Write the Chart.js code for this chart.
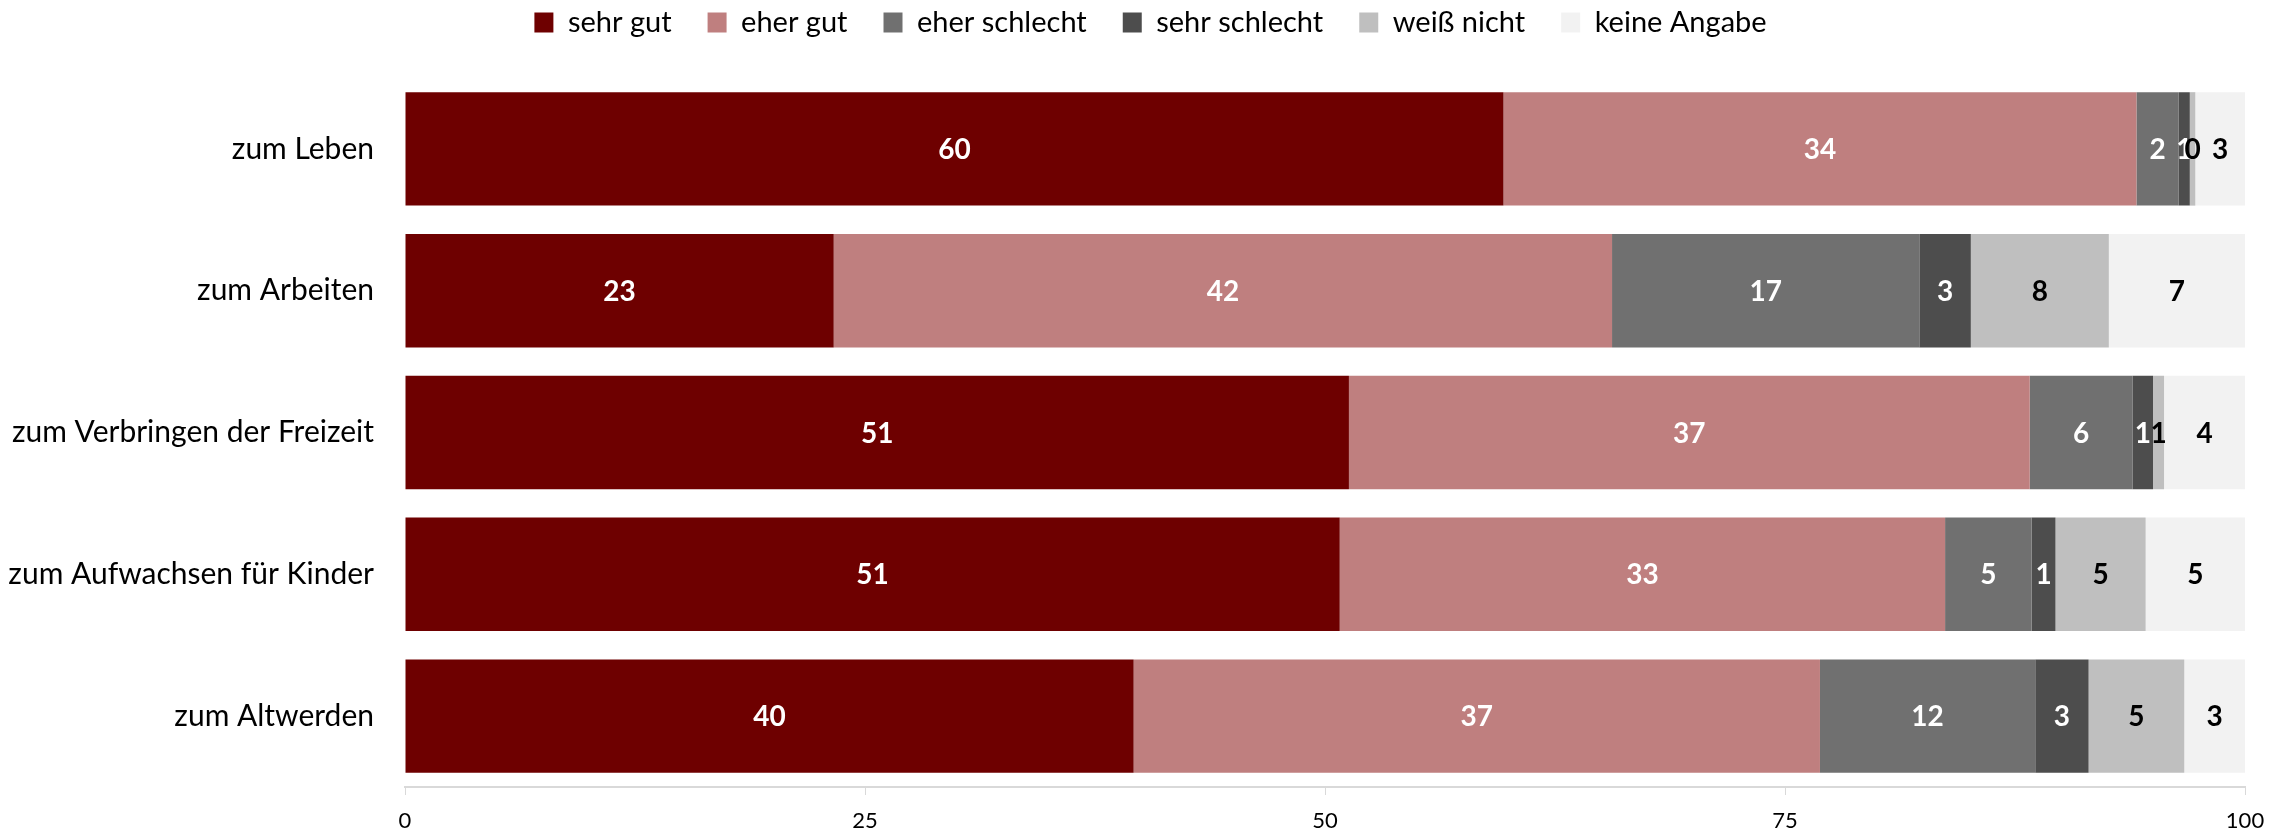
<!DOCTYPE html>
<html>
<head>
<meta charset="utf-8">
<script src="https://cdn.jsdelivr.net/npm/chart.js@4.4.1/dist/chart.umd.min.js"></script>
<style>
html,body{margin:0;padding:0;background:#fff;}
#wrap{width:2289px;height:836px;}
</style>
</head>
<body>
<div id="wrap"><canvas id="c" width="2289" height="836"></canvas></div>
<script>
const categories = ["zum Leben","zum Arbeiten","zum Verbringen der Freizeit","zum Aufwachsen für Kinder","zum Altwerden"];
const seriesNames = ["sehr gut","eher gut","eher schlecht","sehr schlecht","weiß nicht","keine Angabe"];
const sehrGut      = [59.7, 23.3, 51.3, 50.8, 39.6];
const eherGut      = [34.4, 42.3, 37.0, 32.9, 37.3];
const eherSchlecht = [2.3, 16.7, 5.6, 4.7, 11.7];
const sehrSchlecht = [0.6, 2.8, 1.1, 1.3, 2.9];
const weissNicht   = [0.3, 7.5, 0.6, 4.9, 5.2];
const keineAngabe  = [2.7, 7.4, 4.4, 5.4, 3.3];
const xTicks = [0, 25, 50, 75, 100];

const colors = ["#6E0000","#BF7F7F","#707070","#4D4D4D","#BFBFBF","#F2F2F2"];
const labelColors = ["#FFFFFF","#FFFFFF","#FFFFFF","#FFFFFF","#000000","#000000"];
const allSeries = [sehrGut, eherGut, eherSchlecht, sehrSchlecht, weissNicht, keineAngabe];

const FONT = "Lato, 'Open Sans', sans-serif";

const segLabels = {
  id: 'segLabels',
  afterDatasetsDraw(chart) {
    const ctx = chart.ctx;
    ctx.save();
    ctx.font = "bold 28px " + FONT;
    ctx.textAlign = 'center';
    ctx.textBaseline = 'middle';
    chart.data.datasets.forEach((ds, i) => {
      const meta = chart.getDatasetMeta(i);
      meta.data.forEach((el, j) => {
        const v = ds.data[j];
        const cx = (el.x + el.base) / 2;
        ctx.fillStyle = labelColors[i];
        ctx.fillText(String(Math.round(v)), cx, el.y + 1);
      });
    });
    ctx.restore();
  }
};

const legendTweak = {
  id: 'legendTweak',
  afterInit(chart) {
    const lg = chart.legend;
    if (!lg) return;
    const origFit = lg.fit;
    lg.fit = function () { origFit.call(this); this.height = 78; };
    const origDraw = lg.draw;
    lg.draw = function (...args) {
      const ctx = this.ctx;
      ctx.save();
      ctx.translate(28, -28);
      origDraw.apply(this, args);
      ctx.restore();
    };
  }
};

new Chart(document.getElementById('c'), {
  type: 'bar',
  data: {
    labels: categories,
    datasets: seriesNames.map((n, i) => ({
      label: n,
      data: allSeries[i],
      backgroundColor: colors[i],
      borderWidth: 0,
      barPercentage: 0.8,
      categoryPercentage: 1.0
    }))
  },
  options: {
    indexAxis: 'y',
    responsive: false,
    devicePixelRatio: 1,
    animation: false,
    layout: { padding: { top: 0, right: 44, bottom: 0, left: 0 } },
    plugins: {
      legend: {
        position: 'top',
        labels: {
          font: { family: FONT, size: 29 },
          color: '#000',
          boxWidth: 19,
          boxHeight: 20,
          padding: 36
        }
      },
      tooltip: { enabled: false }
    },
    scales: {
      x: {
        stacked: true,
        min: 0, max: 100,
        afterBuildTicks(s) { s.ticks = xTicks.map(v => ({ value: v })); },
        afterFit(s) { s.height = 47; },
        ticks: { font: { family: FONT, size: 22 }, color: '#000', padding: 13 },
        grid: { drawOnChartArea: false, drawTicks: true, tickLength: 8, color: '#D9D9D9' },
        border: { display: true, color: '#D9D9D9', width: 2 }
      },
      y: {
        stacked: true,
        afterFit(s) { s.width = 405; },
        ticks: { font: { family: FONT, size: 30 }, color: '#000', padding: 31 },
        grid: { display: false, drawTicks: false },
        border: { display: false }
      }
    }
  },
  plugins: [segLabels, legendTweak]
});
</script>
</body>
</html>
